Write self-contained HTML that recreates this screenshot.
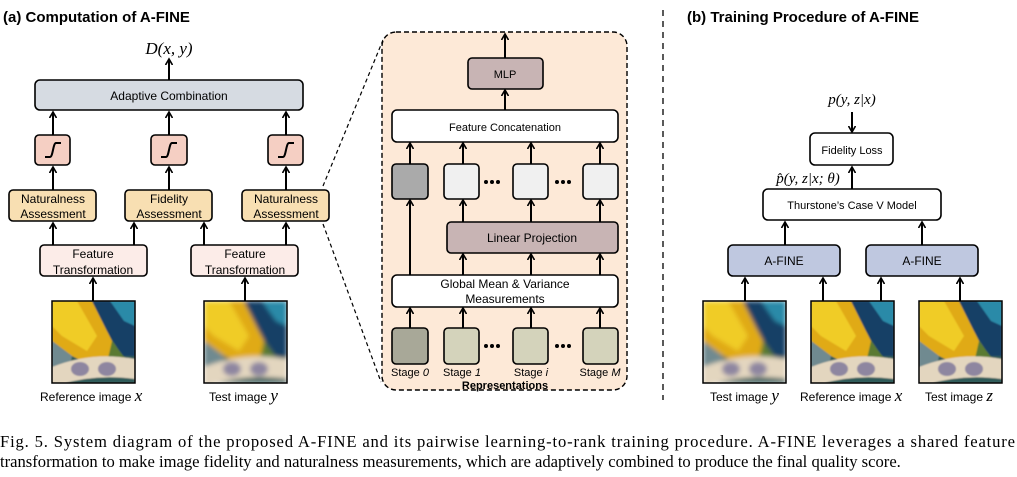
<!DOCTYPE html>
<html><head><meta charset="utf-8"><style>
html,body{margin:0;padding:0;background:#fff;}
svg{display:block;}
text{font-family:"Liberation Sans",sans-serif;}
.m{font-family:"Liberation Serif",serif;font-style:italic;}
</style></head><body>
<svg width="1017" height="477" viewBox="0 0 1017 477" xmlns="http://www.w3.org/2000/svg">
<defs>
<marker id="ah" markerWidth="8" markerHeight="8" refX="5" refY="4" orient="auto" markerUnits="userSpaceOnUse">
<path d="M0,0.5 L6,4 L0,7.5" fill="none" stroke="#000" stroke-width="1.6"/>
</marker>
<clipPath id="cp"><rect x="0" y="0" width="83" height="82"/></clipPath>
<filter id="bl" x="-10%" y="-10%" width="120%" height="120%"><feGaussianBlur stdDeviation="2.5"/></filter>
<filter id="bl2" x="-10%" y="-10%" width="120%" height="120%"><feGaussianBlur stdDeviation="0.8"/></filter>
<g id="parrot">
<rect x="0" y="0" width="83" height="82" fill="#2f5a58"/>
<path d="M0,0 L40,0 L60,40 L75,60 L50,70 L20,55 L0,40Z" fill="#e0aa18"/>
<path d="M0,0 L25,0 L45,35 L35,50 L10,35 L0,25Z" fill="#f0cc28"/>
<path d="M40,0 L83,0 L83,55 L70,55 L55,30Z" fill="#173f66"/>
<path d="M58,0 L83,0 L83,25 L72,20Z" fill="#2a8aa8"/>
<path d="M0,40 L20,55 L15,82 L0,82Z" fill="#6f8a90"/>
<path d="M60,40 L75,60 L70,70 L55,62Z" fill="#5a7a30"/>
<path d="M0,66 Q40,50 83,58 L83,78 Q40,72 0,86Z" fill="#e3d6bf"/>
<ellipse cx="28" cy="68" rx="9" ry="7" fill="#8e86a0"/>
<ellipse cx="55" cy="68" rx="9" ry="7" fill="#8e86a0"/>
</g>
</defs>

<!-- Panel (a) -->
<text x="3" y="22" font-size="15" font-weight="bold">(a) Computation of A-FINE</text>
<text x="169" y="54" font-size="17" text-anchor="middle" class="m">D(x, y)</text>
<g stroke="#000" stroke-width="2" marker-end="url(#ah)">
<line x1="169" y1="80" x2="169" y2="60"/>
<line x1="53" y1="135" x2="53" y2="113"/>
<line x1="169" y1="135" x2="169" y2="113"/>
<line x1="286" y1="135" x2="286" y2="113"/>
<line x1="53" y1="190" x2="53" y2="168"/>
<line x1="169" y1="190" x2="169" y2="168"/>
<line x1="286" y1="190" x2="286" y2="168"/>
<line x1="53" y1="245" x2="53" y2="224"/>
<line x1="134" y1="245" x2="134" y2="224"/>
<line x1="204" y1="245" x2="204" y2="224"/>
<line x1="286" y1="245" x2="286" y2="224"/>
<line x1="93" y1="301" x2="93" y2="279"/>
<line x1="245" y1="301" x2="245" y2="279"/>
</g>
<g stroke="#000" stroke-width="1.6">
<rect x="35" y="80" width="268" height="30" rx="5" fill="#d6dbe2"/>
<rect x="35" y="135" width="35" height="30" rx="4" fill="#f5cfc3"/>
<rect x="151" y="135" width="36" height="30" rx="4" fill="#f5cfc3"/>
<rect x="268" y="135" width="35" height="30" rx="4" fill="#f5cfc3"/>
<rect x="9" y="190" width="87" height="31" rx="4" fill="#f8dfb2"/>
<rect x="125" y="190" width="87" height="31" rx="4" fill="#f8dfb2"/>
<rect x="242" y="190" width="87" height="31" rx="4" fill="#f8dfb2"/>
<rect x="40" y="245" width="107" height="31" rx="4" fill="#fcece8"/>
<rect x="191" y="245" width="107" height="31" rx="4" fill="#fcece8"/>
</g>
<g fill="none" stroke="#000" stroke-width="2">
<path d="M45,157 L50,157 C53,157 53,143 56,143 L61,143"/>
<path d="M161,157 L166,157 C169,157 169,143 172,143 L177,143"/>
<path d="M278,157 L283,157 C286,157 286,143 289,143 L294,143"/>
</g>
<g font-size="12" text-anchor="middle">
<text x="169" y="100">Adaptive Combination</text>
<text x="53" y="203">Naturalness</text><text x="53" y="218">Assessment</text>
<text x="169" y="203">Fidelity</text><text x="169" y="218">Assessment</text>
<text x="286" y="203">Naturalness</text><text x="286" y="218">Assessment</text>
<text x="93" y="258">Feature</text><text x="93" y="274">Transformation</text>
<text x="245" y="258">Feature</text><text x="245" y="274">Transformation</text>
</g>
<g transform="translate(52,301)"><g clip-path="url(#cp)"><use href="#parrot" filter="url(#bl2)"/></g><rect width="83" height="82" fill="none" stroke="#000" stroke-width="1.5"/></g>
<g transform="translate(204,301)"><g clip-path="url(#cp)"><use href="#parrot" filter="url(#bl)"/></g><rect width="83" height="82" fill="none" stroke="#000" stroke-width="1.5"/></g>
<text x="40" y="401" font-size="12">Reference image <tspan class="m" font-size="17">x</tspan></text>
<text x="209" y="401" font-size="12">Test image <tspan class="m" font-size="17">y</tspan></text>

<!-- zoom lines -->
<g stroke="#000" stroke-width="1.2" stroke-dasharray="4,3" fill="none">
<line x1="323" y1="186" x2="383" y2="40"/>
<line x1="323" y1="224" x2="381" y2="382"/>
</g>

<!-- Inset -->
<rect x="382" y="32" width="245" height="358" rx="14" fill="#fde9d7" stroke="#000" stroke-width="1.4" stroke-dasharray="5,3"/>
<g stroke="#000" stroke-width="2" marker-end="url(#ah)">
<line x1="505" y1="58" x2="505" y2="35"/>
<line x1="505" y1="110" x2="505" y2="91"/>
<line x1="410" y1="164" x2="410" y2="144"/>
<line x1="463" y1="164" x2="463" y2="144"/>
<line x1="531" y1="164" x2="531" y2="144"/>
<line x1="600" y1="164" x2="600" y2="144"/>
<line x1="410" y1="275" x2="410" y2="201"/>
<line x1="463" y1="222" x2="463" y2="201"/>
<line x1="531" y1="222" x2="531" y2="201"/>
<line x1="600" y1="222" x2="600" y2="201"/>
<line x1="463" y1="275" x2="463" y2="255"/>
<line x1="531" y1="275" x2="531" y2="255"/>
<line x1="600" y1="275" x2="600" y2="255"/>
<line x1="410" y1="328" x2="410" y2="309"/>
<line x1="463" y1="328" x2="463" y2="309"/>
<line x1="531" y1="328" x2="531" y2="309"/>
<line x1="600" y1="328" x2="600" y2="309"/>
</g>
<g stroke="#000" stroke-width="1.6">
<rect x="468" y="58" width="75" height="31" rx="4" fill="#c8b4b4"/>
<rect x="392" y="110" width="226" height="32" rx="5" fill="#fff"/>
<rect x="392" y="164" width="36" height="35" rx="4" fill="#aaaaaa"/>
<rect x="444" y="164" width="35" height="35" rx="4" fill="#f0f0f0"/>
<rect x="513" y="164" width="35" height="35" rx="4" fill="#f0f0f0"/>
<rect x="583" y="164" width="35" height="35" rx="4" fill="#f0f0f0"/>
<rect x="447" y="222" width="171" height="31" rx="4" fill="#c8b4b4"/>
<rect x="392" y="275" width="226" height="32" rx="5" fill="#fff"/>
<rect x="392" y="328" width="36" height="36" rx="4" fill="#a8a898"/>
<rect x="444" y="328" width="35" height="36" rx="4" fill="#d4d3bb"/>
<rect x="513" y="328" width="35" height="36" rx="4" fill="#d4d3bb"/>
<rect x="583" y="328" width="35" height="36" rx="4" fill="#d4d3bb"/>
</g>
<g fill="#000">
<circle cx="486" cy="182" r="2"/><circle cx="492" cy="182" r="2"/><circle cx="498" cy="182" r="2"/>
<circle cx="557" cy="182" r="2"/><circle cx="563" cy="182" r="2"/><circle cx="569" cy="182" r="2"/>
<circle cx="486" cy="346" r="2"/><circle cx="492" cy="346" r="2"/><circle cx="498" cy="346" r="2"/>
<circle cx="557" cy="346" r="2"/><circle cx="563" cy="346" r="2"/><circle cx="569" cy="346" r="2"/>
</g>
<g font-size="12" text-anchor="middle">
<text x="505" y="78" font-size="11">MLP</text>
<text x="505" y="131" font-size="11">Feature Concatenation</text>
<text x="532" y="242">Linear Projection</text>
<text x="505" y="288">Global Mean &amp; Variance</text>
<text x="505" y="303">Measurements</text>
<g font-size="11">
<text x="410" y="376">Stage <tspan font-style="italic">0</tspan></text>
<text x="462" y="376">Stage <tspan font-style="italic">1</tspan></text>
<text x="531" y="376">Stage <tspan font-style="italic">i</tspan></text>
<text x="600" y="376">Stage <tspan font-style="italic">M</tspan></text>
<text x="505" y="389" font-weight="bold">Representations</text>
</g>
</g>

<!-- divider -->
<line x1="663" y1="10" x2="663" y2="400" stroke="#000" stroke-width="1.3" stroke-dasharray="6,5"/>

<!-- Panel (b) -->
<text x="687" y="22" font-size="15" font-weight="bold">(b) Training Procedure of A-FINE</text>
<text x="852" y="104" font-size="15" text-anchor="middle" class="m">p(y, z|x)</text>
<text x="808" y="183" font-size="15" text-anchor="middle" class="m">p̂(y, z|x; θ)</text>
<g stroke="#000" stroke-width="2" marker-end="url(#ah)">
<line x1="852" y1="112" x2="852" y2="131"/>
<line x1="852" y1="189" x2="852" y2="168"/>
<line x1="785" y1="245" x2="785" y2="223"/>
<line x1="922" y1="245" x2="922" y2="223"/>
<line x1="745" y1="301" x2="745" y2="279"/>
<line x1="823" y1="301" x2="823" y2="279"/>
<line x1="881" y1="301" x2="881" y2="279"/>
<line x1="960" y1="301" x2="960" y2="279"/>
</g>
<g stroke="#000" stroke-width="1.6">
<rect x="810" y="133" width="83" height="32" rx="5" fill="#fff"/>
<rect x="763" y="189" width="178" height="31" rx="5" fill="#fff"/>
<rect x="728" y="245" width="112" height="31" rx="5" fill="#bfc8e0"/>
<rect x="866" y="245" width="112" height="31" rx="5" fill="#bfc8e0"/>
</g>
<g font-size="12" text-anchor="middle">
<text x="852" y="154" font-size="11">Fidelity Loss</text>
<text x="852" y="209" font-size="11">Thurstone’s Case V Model</text>
<text x="784" y="265">A-FINE</text>
<text x="922" y="265">A-FINE</text>
</g>
<g transform="translate(703,301)"><g clip-path="url(#cp)"><use href="#parrot" filter="url(#bl)"/></g><rect width="83" height="82" fill="none" stroke="#000" stroke-width="1.5"/></g>
<g transform="translate(811,301)"><g clip-path="url(#cp)"><use href="#parrot" filter="url(#bl2)"/></g><rect width="83" height="82" fill="none" stroke="#000" stroke-width="1.5"/></g>
<g transform="translate(919,301)"><g clip-path="url(#cp)"><use href="#parrot" filter="url(#bl2)"/></g><rect width="83" height="82" fill="none" stroke="#000" stroke-width="1.5"/></g>
<text x="710" y="401" font-size="12">Test image <tspan class="m" font-size="17">y</tspan></text>
<text x="800" y="401" font-size="12">Reference image <tspan class="m" font-size="17">x</tspan></text>
<text x="925" y="401" font-size="12">Test image <tspan class="m" font-size="17">z</tspan></text>

<!-- caption -->
<text x="0" y="447" font-size="16.6" style="font-family:'Liberation Serif',serif" textLength="1015" lengthAdjust="spacing">Fig. 5. System diagram of the proposed A-FINE and its pairwise learning-to-rank training procedure. A-FINE leverages a shared feature</text>
<text x="0" y="467" font-size="16.6" style="font-family:'Liberation Serif',serif">transformation to make image fidelity and naturalness measurements, which are adaptively combined to produce the final quality score.</text>
</svg>
</body></html>
